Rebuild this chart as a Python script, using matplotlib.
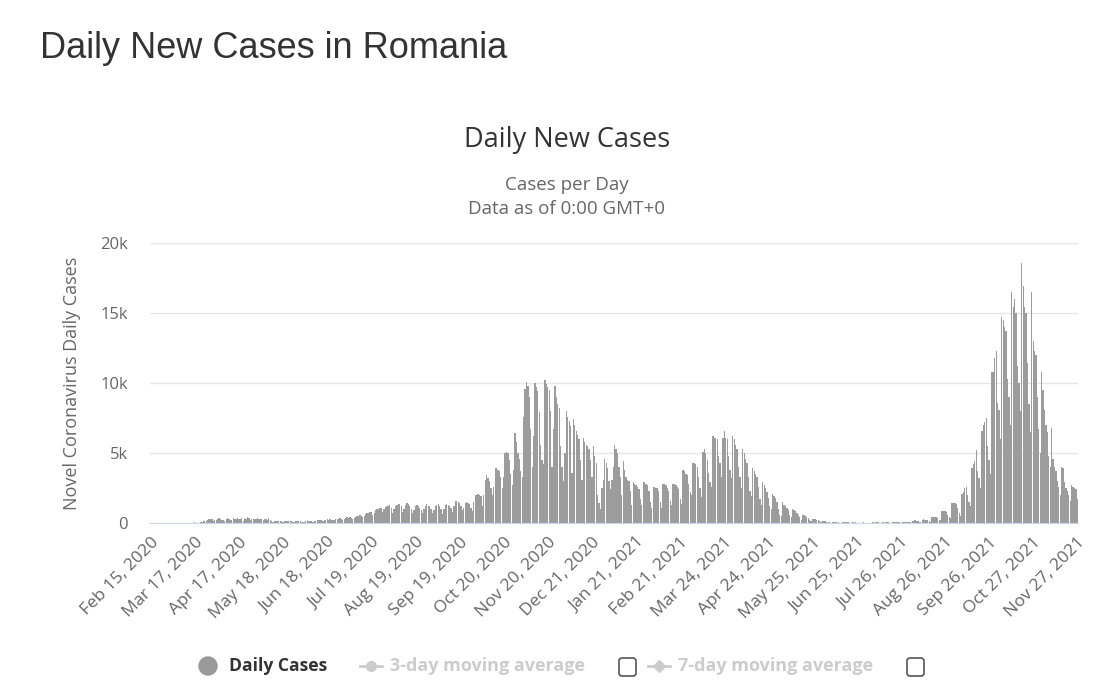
import numpy as np
import pandas as pd
import matplotlib
matplotlib.use("Agg")
import matplotlib.pyplot as plt
from matplotlib.patches import Circle, FancyBboxPatch

# daily new cases, one row per week (Sat..Fri), starting Feb 15, 2020
first_wave_2020 = [
    0, 0, 0, 0, 0, 0, 0,
    0, 0, 0, 0, 1, 0, 2,
    0, 0, 0, 0, 0, 0, 3,
    2, 2, 2, 6, 0, 15, 17,
    29, 10, 20, 49, 33, 31, 31,
    60, 66, 143, 143, 144, 186, 263,
    254, 308, 123, 249, 192, 287, 351,
    270, 247, 193, 163, 299, 360, 264,
    239, 187, 354, 290, 298, 388, 299,
    321, 330, 172, 376, 279, 406, 371,
    245, 307, 267, 287, 253, 384, 263,
    298, 274, 190, 263, 261, 201, 356,
]
summer_2020 = [
    190, 140, 95, 120, 150, 160, 140,
    130, 110, 80, 120, 140, 130, 120,
    130, 110, 75, 100, 130, 140, 120,
    120, 100, 60, 90, 130, 140, 120,
    130, 110, 80, 140, 160, 180, 190,
    210, 180, 140, 200, 240, 260, 250,
    270, 250, 190, 250, 300, 320, 310,
    330, 300, 240, 300, 370, 400, 390,
    420, 380, 300, 380, 460, 500, 520,
    560, 520, 400, 500, 620, 700, 750,
    800, 780, 600, 750, 900, 1000, 1030,
    1100, 1050, 800, 1000, 1150, 1250, 1200,
    1300, 1100, 700, 1000, 1200, 1300, 1350,
    1350, 1200, 800, 1000, 1300, 1400, 1350,
    1200, 1000, 700, 900, 1200, 1300, 1250,
    1050, 950, 750, 1000, 1250, 1350, 1250,
    1200, 1000, 700, 950, 1250, 1300, 1350,
    1200, 1000, 650, 1000, 1300, 1350, 1300,
    1250, 1100, 800, 1200, 1600, 1550, 1500,
    1400, 1200, 900, 1100, 1450, 1500, 1450,
]
autumn_2020 = [
    1350, 1100, 850, 1500, 2000, 2000, 2100,
    2000, 1900, 1200, 2000, 3100, 3400, 3200,
    3000, 2500, 2000, 2600, 3900, 3900, 3800,
    3700, 3300, 2500, 3300, 5000, 5100, 5000,
    4500, 3500, 2700, 3800, 6400, 5800, 5000,
    4600, 3700, 3300, 7600, 9600, 10100, 9800,
    9000, 6700, 4000, 6200, 10000, 9700, 9400,
    7900, 5600, 4500, 4200, 10200, 9900, 9700,
    9500, 8000, 4000, 6700, 9800, 9000, 8500,
    8200, 5500, 4000, 3000, 5000, 8000, 7600,
    7300, 6900, 3600, 7400, 7000, 6600, 6300,
    6000, 4500, 3100, 6100, 5800, 5600, 5500,
    5300, 4500, 3300, 5500, 4800, 4300, 2000,
    1400, 1000, 2500, 3100, 4600, 4300, 3900,
]
winter_2021 = [
    3000, 2400, 3100, 4000, 5600, 5300, 5000,
    4000, 3300, 2000, 4400, 3800, 3300, 3100,
    3000, 2300, 1300, 2900, 2800, 2700, 2600,
    2400, 1700, 1300, 2900, 2900, 2800, 2700,
    2300, 1500, 1100, 2600, 2600, 2500, 2500,
    2300, 1500, 1100, 2800, 2800, 2700, 2500,
    2300, 1600, 1300, 2800, 2800, 2700, 2600,
    2400, 1700, 1350, 3800, 3700, 3500, 3400,
]
spring_2021 = [
    2800, 2200, 2000, 4300, 4300, 4200, 4000,
    3300, 2500, 1850, 5100, 5300, 5000, 4500,
    3600, 2900, 2600, 6200, 6100, 6100, 6000,
    4800, 4300, 3300, 6100, 6600, 6100, 6000,
    4800, 3800, 3200, 6200, 6000, 5600, 5300,
    4000, 3300, 2500, 5300, 5000, 4600, 4300,
    3300, 2300, 1900, 3900, 3700, 3500, 3300,
    2600, 1700, 1300, 2900, 2700, 2500, 2200,
    1800, 1200, 1000, 2100, 1900, 1800, 1500,
    1000, 600, 500, 1500, 1300, 1200, 1100,
    900, 600, 450, 1000, 900, 850, 750,
    600, 400, 250, 600, 550, 500, 450,
    350, 200, 130, 300, 280, 260, 230,
]
summer_2021 = [
    180, 110, 60, 130, 120, 110, 100,
    90, 50, 25, 80, 80, 70, 60,
    55, 30, 15, 50, 55, 50, 45,
    40, 25, 10, 40, 45, 40, 35,
    35, 20, 8, 35, 40, 35, 35,
    30, 18, 8, 40, 45, 40, 40,
    40, 22, 12, 50, 55, 55, 50,
    50, 30, 18, 60, 70, 70, 65,
    60, 40, 25, 90, 100, 100, 90,
    80, 50, 40, 150, 170, 180, 170,
    120, 80, 60, 240, 260, 250, 230,
    200, 130, 100, 430, 460, 450, 440,
    350, 250, 200, 850, 870, 860, 800,
]
autumn_2021 = [
    600, 400, 350, 1400, 1450, 1400, 1350,
    1100, 700, 500, 2100, 2200, 2500, 2600,
    2000, 1500, 1200, 3900, 4200, 4400, 5200,
    3700, 3200, 2500, 6600, 7000, 7200, 7500,
    5500, 4500, 3500, 10800, 10800, 11800, 12300,
    8600, 8100, 6000, 14700, 14500, 14000, 13700,
    10300, 9000, 7000, 16500, 15400, 16000, 15000,
    11200, 10000, 8000, 18600, 16900, 15400, 15000,
    11400, 8500, 6500, 16500, 13000, 12300, 12000,
    9000, 6700, 5000, 10800, 9500, 8100, 7000,
    6500, 4800, 4000, 6800, 4600, 4000, 3700,
    3000, 2600, 2000, 4000, 3900, 2900, 2500,
    2300, 2000, 1600, 2700, 2600, 2500, 2400,
    1700,
]

cases = (first_wave_2020 + summer_2020 + autumn_2020 + winter_2021
         + spring_2021 + summer_2021 + autumn_2021)
dates = pd.date_range("2020-02-15", periods=len(cases), freq="D")

y_ticks = [0, 5000, 10000, 15000, 20000]
y_labels = ["0", "5k", "10k", "15k", "20k"]
tick_step = 31

W, H = 1093, 700
fig = plt.figure(figsize=(W / 100, H / 100), dpi=100)
fig.patch.set_facecolor("white")

ax = fig.add_axes([150 / W, 1 - 523 / H, 928 / W, 280 / H])
x = np.arange(len(cases))
ax.bar(x, cases, width=0.9, color="#9c9c9c", linewidth=0, zorder=2)
ax.set_xlim(-0.5, len(cases) - 0.5)
ax.set_ylim(0, 20000)
ax.set_yticks(y_ticks)
ax.set_yticklabels(y_labels, family="Open Sans")
ax.grid(axis="y", color="#e6e6e6", lw=1)
ax.set_axisbelow(True)
for s in ["top", "right", "left"]:
    ax.spines[s].set_visible(False)
ax.spines["bottom"].set_color("#ccd6eb")
ax.spines["bottom"].set_zorder(3)

ticks = x[::tick_step]
ax.set_xticks(ticks)
ax.set_xticklabels([f"{d:%b} {d.day}, {d.year}" for d in dates[ticks]],
                   rotation=45, ha="right", va="top", rotation_mode="anchor",
                   family="Open Sans")
ax.tick_params(axis="x", length=0, pad=8, labelsize=12.5, labelcolor="#666666")
ax.tick_params(axis="y", length=0, pad=16, labelsize=12, labelcolor="#666666")

fig.text(72 / W, 1 - 383 / H, "Novel Coronavirus Daily Cases", rotation=90,
         ha="center", va="center", fontsize=13, color="#666666", family="Open Sans")

# titles and legend drawn in pixel space
ov = fig.add_axes([0, 0, 1, 1], facecolor="none")
ov.set_xlim(0, W)
ov.set_ylim(H, 0)
ov.axis("off")

ov.text(40, 48, "Daily New Cases in Romania", fontsize=26, color="#333333",
        family="Liberation Sans", ha="left", va="center")
ov.text(567, 140, "Daily New Cases", fontsize=19.5, color="#333333",
        family="Open Sans", ha="center", va="center")
ov.text(567, 185, "Cases per Day", fontsize=13.5, color="#666666",
        family="Open Sans", ha="center", va="center")
ov.text(567, 209, "Data as of 0:00 GMT+0", fontsize=13.5, color="#666666",
        family="Open Sans", ha="center", va="center")

ly = 666
ov.add_patch(Circle((208, ly), 9, color="#999999"))
ov.text(229, ly, "Daily Cases", fontsize=12.6, fontweight="bold", color="#333333",
        family="Open Sans", ha="left", va="center")

ov.plot([360, 382], [ly, ly], color="#cccccc", lw=2)
ov.plot([371], [ly], marker="o", ms=7, color="#cccccc")
ov.text(390, ly, "3-day moving average", fontsize=13, fontweight="bold",
        color="#cccccc", family="Open Sans", ha="left", va="center")
ov.add_patch(FancyBboxPatch((619, 658), 17, 18, boxstyle="round,pad=0,rounding_size=3",
                            facecolor="white", edgecolor="#555555", lw=1.2))

ov.plot([648, 670], [ly, ly], color="#cccccc", lw=2)
ov.plot([659], [ly], marker="D", ms=6, color="#cccccc")
ov.text(678, ly, "7-day moving average", fontsize=13, fontweight="bold",
        color="#cccccc", family="Open Sans", ha="left", va="center")
ov.add_patch(FancyBboxPatch((907, 658), 17, 18, boxstyle="round,pad=0,rounding_size=3",
                            facecolor="white", edgecolor="#555555", lw=1.2))

fig.savefig("out.png", dpi=100)
